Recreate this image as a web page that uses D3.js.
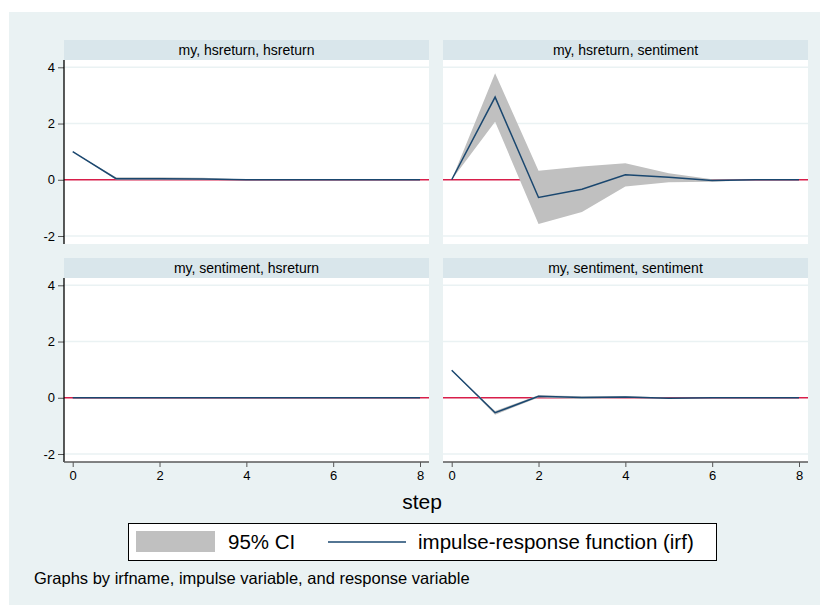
<!DOCTYPE html>
<html>
<head>
<meta charset="utf-8">
<script src="https://cdn.jsdelivr.net/npm/d3@7"></script>
<style>
  body { margin: 0; background: #fff; }
  text { font-family: "Liberation Sans", Arial, sans-serif; fill: #000; }
</style>
</head>
<body>
<div id="chart"></div>
<script>
// data
var steps = [0, 1, 2, 3, 4, 5, 6, 7, 8];
var xTicks = [0, 2, 4, 6, 8];
var yTicks = [-2, 0, 2, 4];
var panelTitles = [
    "my, hsreturn, hsreturn",
    "my, hsreturn, sentiment",
    "my, sentiment, hsreturn",
    "my, sentiment, sentiment"
];

var irf1 = [1.00, 0.04, 0.04, 0.03, 0.00, 0.00, 0.00, 0.00, 0.00];
var lo1  = [1.00, 0.00, 0.00, 0.00, -0.01, 0.00, 0.00, 0.00, 0.00];
var hi1  = [1.00, 0.09, 0.09, 0.07, 0.01, 0.00, 0.00, 0.00, 0.00];

var irf2 = [0.00, 2.94, -0.63, -0.34, 0.18, 0.09, -0.03, 0.00, 0.00];
var lo2  = [0.00, 2.06, -1.57, -1.15, -0.24, -0.09, -0.07, -0.01, 0.00];
var hi2  = [0.00, 3.79, 0.32, 0.47, 0.59, 0.23, 0.02, 0.01, 0.00];

var irf3 = [0, 0, 0, 0, 0, 0, 0, 0, 0];
var lo3  = [0, 0, 0, 0, 0, 0, 0, 0, 0];
var hi3  = [0, 0, 0, 0, 0, 0, 0, 0, 0];

var irf4 = [0.98, -0.53, 0.05, 0.01, 0.03, -0.02, 0.00, 0.00, 0.00];
var lo4  = [0.98, -0.60, 0.01, -0.04, -0.01, -0.03, -0.01, 0.00, 0.00];
var hi4  = [0.98, -0.47, 0.09, 0.05, 0.06, 0.00, 0.01, 0.00, 0.00];

var legendLabels = ["95% CI", "impulse-response function (irf)"];
var xTitle = "step";
var note = "Graphs by irfname, impulse variable, and response variable";

function init() {
    var series = [
        { irf: irf1, lo: lo1, hi: hi1 },
        { irf: irf2, lo: lo2, hi: hi2 },
        { irf: irf3, lo: lo3, hi: hi3 },
        { irf: irf4, lo: lo4, hi: hi4 }
    ];
    var panels = panelTitles.map(function (t, i) {
        return {
            title: t,
            col: i % 2,
            row: Math.floor(i / 2),
            data: steps.map(function (s, j) {
                return { step: s, irf: series[i].irf[j], lo: series[i].lo[j], hi: series[i].hi[j] };
            })
        };
    });
    grid(panels);
}

function grid(panels) {
    var W = 820, H = 605;
    var pw = 365, ph = 184;
    var colX = [64, 443];
    var rowY = [60, 278];

    var svg = d3.select("#chart")
        .append("svg")
        .attr("width", W)
        .attr("height", H);

    // outer background
    svg.append("rect")
        .attr("x", 9).attr("y", 12)
        .attr("width", W - 9).attr("height", H - 12)
        .style("fill", "#eaf2f3");

    var xScale = d3.scaleLinear().domain([0, 8]).range([8.7, 356]);
    var yScale = d3.scaleLinear().domain([-2, 4]).range([176, 7.3]);

    // plain hyphen for negatives, no decimals
    var fmt = function (d) { return String(d); };

    var area = d3.area()
        .x(function (d) { return xScale(d.step); })
        .y0(function (d) { return yScale(d.lo); })
        .y1(function (d) { return yScale(d.hi); });

    var line = d3.line()
        .x(function (d) { return xScale(d.step); })
        .y(function (d) { return yScale(d.irf); });

    panels.forEach(function (p, i) {
        var g = svg.append("g")
            .attr("transform", "translate(" + colX[p.col] + "," + rowY[p.row] + ")");

        // strip
        g.append("rect")
            .attr("x", 0).attr("y", -20)
            .attr("width", pw).attr("height", 20)
            .style("fill", "#d9e6eb");
        g.append("text")
            .attr("x", pw / 2).attr("y", -5.5)
            .attr("text-anchor", "middle")
            .style("font-size", "14px")
            .text(p.title);

        // plot region
        g.append("rect")
            .attr("width", pw).attr("height", ph)
            .style("fill", "#fff");

        g.append("clipPath").attr("id", "clip" + i)
            .append("rect").attr("width", pw).attr("height", ph);

        var inner = g.append("g").attr("clip-path", "url(#clip" + i + ")");

        // grid lines
        inner.selectAll(".gridline")
            .data(yTicks.filter(function (v) { return v !== 0; }))
            .enter().append("line")
            .attr("x1", 0).attr("x2", pw)
            .attr("y1", function (d) { return yScale(d); })
            .attr("y2", function (d) { return yScale(d); })
            .style("stroke", "#eaf2f3")
            .style("stroke-width", 1.5);

        // zero line
        inner.append("line")
            .attr("x1", 0).attr("x2", pw)
            .attr("y1", yScale(0)).attr("y2", yScale(0))
            .style("stroke", "#d81e4a")
            .style("stroke-width", 1.3);

        inner.append("path")
            .datum(p.data)
            .attr("d", area)
            .style("fill", "#c0c0c0");

        inner.append("path")
            .datum(p.data)
            .attr("d", line)
            .style("fill", "none")
            .style("stroke", "#1a476f")
            .style("stroke-width", 1.5);

        // y axis on left column
        if (p.col === 0) {
            var ya = g.append("g")
                .call(d3.axisLeft(yScale).tickValues(yTicks).tickFormat(fmt).tickSize(6).tickPadding(3));
            ya.select(".domain").remove();
            ya.selectAll(".tick line").style("stroke", "#555");
            ya.selectAll(".tick text")
                .style("font-size", "13px")
                .style("font-family", "'Liberation Sans', Arial, sans-serif");
            g.append("line")
                .attr("x1", 0).attr("x2", 0)
                .attr("y1", 0).attr("y2", ph)
                .style("stroke", "#000")
                .style("stroke-width", 1.3);
        }

        // x axis on bottom row
        if (p.row === 1) {
            var xa = g.append("g")
                .attr("transform", "translate(0," + ph + ")")
                .call(d3.axisBottom(xScale).tickValues(xTicks).tickFormat(fmt).tickSize(5).tickPadding(4));
            xa.select(".domain").remove();
            xa.selectAll(".tick line").style("stroke", "#555");
            xa.selectAll(".tick text")
                .style("font-size", "13px")
                .style("font-family", "'Liberation Sans', Arial, sans-serif");
            g.append("line")
                .attr("x1", 0).attr("x2", pw)
                .attr("y1", ph).attr("y2", ph)
                .style("stroke", "#5a5a5a")
                .style("stroke-width", 1.5);
        }
    });

    // x title
    svg.append("text")
        .attr("x", 422).attr("y", 509)
        .attr("text-anchor", "middle")
        .style("font-size", "21px")
        .text(xTitle);

    // legend
    var lg = svg.append("g");
    lg.append("rect")
        .attr("x", 128.5).attr("y", 523.5)
        .attr("width", 588).attr("height", 37)
        .style("fill", "#fff")
        .style("stroke", "#000")
        .style("stroke-width", 1);
    lg.append("rect")
        .attr("x", 136).attr("y", 531)
        .attr("width", 79).attr("height", 21)
        .style("fill", "#c0c0c0");
    lg.append("text")
        .attr("x", 228).attr("y", 549)
        .style("font-size", "20.5px")
        .text(legendLabels[0]);
    lg.append("line")
        .attr("x1", 328).attr("x2", 406)
        .attr("y1", 542).attr("y2", 542)
        .style("stroke", "#1a476f")
        .style("stroke-width", 1.5);
    lg.append("text")
        .attr("x", 418).attr("y", 549)
        .style("font-size", "20.5px")
        .text(legendLabels[1]);

    // note
    svg.append("text")
        .attr("x", 34).attr("y", 584)
        .style("font-size", "16.5px")
        .text(note);
}

init();
</script>
</body>
</html>
